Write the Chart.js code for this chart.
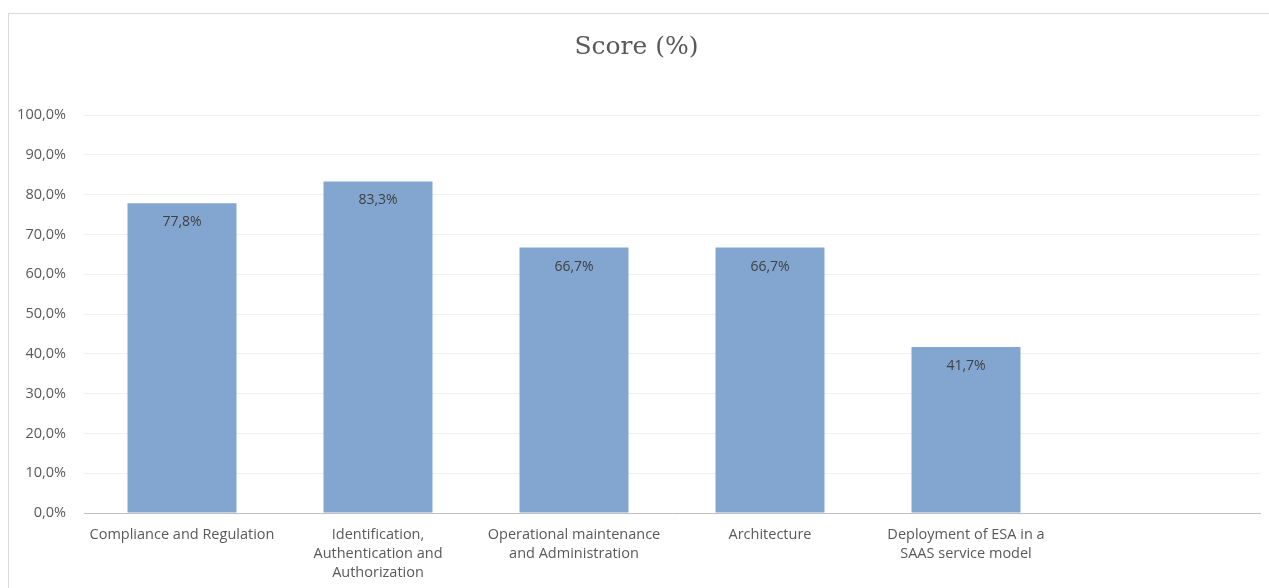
<!DOCTYPE html>
<html>
<head>
<meta charset="utf-8">
<script src="https://cdn.jsdelivr.net/npm/chart.js@4"></script>
<style>
  html, body { margin: 0; padding: 0; background: #fff; overflow: hidden; }
  #box {
    position: absolute; left: 8px; top: 13px;
    width: 1270px; height: 600px;
    border: 1px solid #d9d9d9;
  }
  #wrap { position: absolute; left: 0; top: 0; width: 1260px; height: 584px; }
</style>
</head>
<body>
<div id="box">
  <div id="wrap"><canvas id="scoreChart"></canvas></div>
</div>
<script>
// categories (last slot is empty in the original sheet)
const categories = [
  'Compliance and Regulation',
  ['Identification,', 'Authentication and', 'Authorization'],
  ['Operational maintenance', 'and Administration'],
  'Architecture',
  ['Deployment of ESA in a', 'SAAS service model'],
  ''
];
const scores = [77.8, 83.3, 66.7, 66.7, 41.7, null];
const yTicks = [0, 10, 20, 30, 40, 50, 60, 70, 80, 90, 100];

const fmtPct = v => v.toFixed(1).replace('.', ',') + '%';

// write the value just under the top of each bar
const barLabels = {
  id: 'barLabels',
  afterDatasetsDraw(chart) {
    const ctx = chart.ctx;
    const meta = chart.getDatasetMeta(0);
    ctx.save();
    ctx.font = '14px "Open Sans"';
    ctx.fillStyle = '#404040';
    ctx.textAlign = 'center';
    ctx.textBaseline = 'middle';
    meta.data.forEach((bar, i) => {
      const v = scores[i];
      if (v == null) return;
      ctx.fillText(fmtPct(v), bar.x, bar.y + 19);
    });
    ctx.restore();
  }
};

const ctx = document.getElementById('scoreChart').getContext('2d');
new Chart(ctx, {
  type: 'bar',
  data: {
    labels: categories,
    datasets: [{
      label: 'Score (%)',
      data: scores,
      backgroundColor: '#82a6d0',
      borderWidth: 0,
      categoryPercentage: 0.556,
      barPercentage: 1
    }]
  },
  options: {
    responsive: true,
    maintainAspectRatio: false,
    animation: false,
    layout: { padding: { left: 4, right: 9, top: 0, bottom: 4 } },
    plugins: {
      legend: { display: false },
      tooltip: { enabled: false },
      title: {
        display: true,
        text: 'Score (%)',
        color: '#595959',
        font: { family: '"DejaVu Serif"', size: 25, weight: 'normal' },
        padding: { top: 18, bottom: 53 }
      }
    },
    scales: {
      x: {
        grid: { display: false, drawTicks: false },
        border: { display: true, color: '#bfbfbf', width: 1 },
        ticks: {
          color: '#595959',
          font: { family: '"Open Sans"', size: 14.5, lineHeight: 1.31 },
          padding: 12,
          maxRotation: 0,
          autoSkip: false
        }
      },
      y: {
        min: 0,
        max: 100,
        afterBuildTicks: axis => { axis.ticks = yTicks.map(v => ({ value: v })); },
        afterFit: axis => { axis.width = 71; },
        grid: { color: '#f0f0f0', drawTicks: false },
        border: { display: false },
        ticks: {
          color: '#595959',
          font: { family: '"Open Sans"', size: 14.5 },
          padding: 18,
          callback: v => fmtPct(v)
        }
      }
    }
  },
  plugins: [barLabels]
});
</script>
</body>
</html>
